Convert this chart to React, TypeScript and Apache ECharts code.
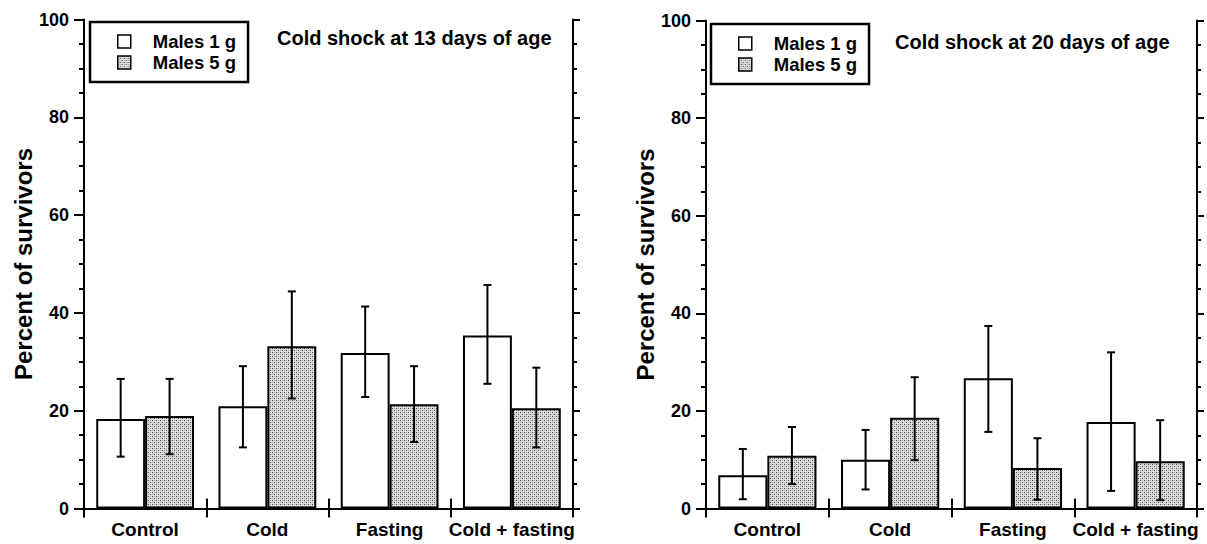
import React, { useEffect, useRef } from "react";
import * as echarts from "echarts";

const categories = ["Control", "Cold", "Fasting", "Cold + fasting"];
const seriesNames = ["Males 1 g", "Males 5 g"];
const yTicks = [0, 20, 40, 60, 80, 100];

const titles = ["Cold shock at 13 days of age", "Cold shock at 20 days of age"];

// Panel 1: cold shock at 13 days
const p1Males1 = [18.3, 20.9, 31.8, 35.4];
const p1Males1Low = [10.6, 12.5, 22.8, 25.5];
const p1Males1High = [26.5, 29.1, 41.3, 45.7];
const p1Males5 = [18.9, 33.2, 21.3, 20.5];
const p1Males5Low = [11.1, 22.5, 13.6, 12.5];
const p1Males5High = [26.5, 44.4, 29.1, 28.8];

// Panel 2: cold shock at 20 days
const p2Males1 = [6.8, 10.0, 26.7, 17.7];
const p2Males1Low = [1.9, 3.9, 15.7, 3.6];
const p2Males1High = [12.2, 16.1, 37.4, 32.0];
const p2Males5 = [10.8, 18.6, 8.3, 9.7];
const p2Males5Low = [5.0, 9.9, 1.8, 1.7];
const p2Males5High = [16.7, 26.9, 14.4, 18.1];

const FONT = "'Liberation Sans', Arial, Helvetica, sans-serif";

function makePattern() {
  const c = document.createElement("canvas");
  c.width = 4;
  c.height = 4;
  const ctx = c.getContext("2d")!;
  ctx.fillStyle = "#dedede";
  ctx.fillRect(0, 0, 4, 4);
  ctx.fillStyle = "#4a4a4a";
  ctx.fillRect(0, 0, 1, 1);
  ctx.fillRect(2, 2, 1, 1);
  ctx.fillStyle = "#a8a8a8";
  ctx.fillRect(2, 0, 1, 1);
  ctx.fillRect(0, 2, 1, 1);
  return { image: c, repeat: "repeat" };
}

export default function App() {
  const ref = useRef<HTMLDivElement>(null);

  useEffect(() => {
    if (!ref.current) return;
    const chart = echarts.init(ref.current, undefined, { renderer: "svg" });
    const pattern = makePattern();

    const grids = [
      { left: 84, right: 1207 - 573, top: 19.5, bottom: 544 - 508.5 },
      { left: 706, right: 1207 - 1197, top: 20.5, bottom: 544 - 508.5 },
    ];

    const lineStyle = { color: "#000", width: 2 };

    const xAxes: any[] = [];
    const yAxes: any[] = [];
    grids.forEach((_, gi) => {
      xAxes.push({
        type: "category",
        gridIndex: gi,
        data: categories,
        position: "bottom",
        axisLine: { show: true, lineStyle },
        axisTick: { show: true, length: 9, lineStyle },
        axisLabel: {
          show: true,
          interval: 0,
          color: "#000",
          fontFamily: FONT,
          fontWeight: "bold",
          fontSize: 19,
          margin: 11,
        },
        splitLine: { show: false },
      });
      xAxes.push({
        type: "category",
        gridIndex: gi,
        data: categories,
        position: "top",
        axisLine: { show: true, lineStyle },
        axisTick: { show: true, length: 10, lineStyle },
        axisLabel: { show: false },
        splitLine: { show: false },
      });
      yAxes.push({
        type: "value",
        gridIndex: gi,
        position: "left",
        min: yTicks[0],
        max: yTicks[yTicks.length - 1],
        interval: 20,
        name: "Percent of survivors",
        nameLocation: "middle",
        nameGap: 34,
        nameTextStyle: {
          color: "#000",
          fontFamily: FONT,
          fontWeight: "bold",
          fontSize: 24,
        },
        axisLine: { show: true, lineStyle },
        axisTick: { show: true, length: 10, lineStyle },
        minorTick: { show: true, splitNumber: 4, length: 5, lineStyle },
        axisLabel: {
          show: true,
          color: "#000",
          fontFamily: FONT,
          fontWeight: "bold",
          fontSize: 18,
          margin: 15,
        },
        splitLine: { show: false },
      });
      yAxes.push({
        type: "value",
        gridIndex: gi,
        position: "right",
        min: yTicks[0],
        max: yTicks[yTicks.length - 1],
        interval: 20,
        axisLine: { show: true, lineStyle },
        axisTick: { show: true, length: 7, lineStyle },
        minorTick: { show: true, splitNumber: 4, length: 4, lineStyle },
        axisLabel: { show: false },
        splitLine: { show: false },
      });
    });

    const barStyle = (fill: any) => ({
      color: fill,
      borderColor: "#000",
      borderWidth: 2,
    });

    const errSeries = (
      name: string,
      gi: number,
      lows: number[],
      highs: number[],
      offset: number
    ) => ({
      type: "custom",
      name,
      xAxisIndex: gi * 2,
      yAxisIndex: gi * 2,
      z: 5,
      silent: true,
      encode: { x: 0, y: [1, 2] },
      data: lows.map((lo, i) => [i, lo, highs[i]]),
      renderItem: (params: any, api: any) => {
        const idx = api.value(0);
        const lo = api.value(1);
        const hi = api.value(2);
        const band = api.size([1, 0])[0];
        const pLo = api.coord([idx, lo]);
        const pHi = api.coord([idx, hi]);
        const x = pLo[0] + offset * band;
        const cap = 4;
        const st = { stroke: "#000", lineWidth: 2 };
        return {
          type: "group",
          children: [
            { type: "line", shape: { x1: x, y1: pHi[1], x2: x, y2: pLo[1] }, style: st },
            { type: "line", shape: { x1: x - cap, y1: pHi[1], x2: x + cap, y2: pHi[1] }, style: st },
            { type: "line", shape: { x1: x - cap, y1: pLo[1], x2: x + cap, y2: pLo[1] }, style: st },
          ],
        };
      },
    });

    const panels = [
      { m1: p1Males1, m1l: p1Males1Low, m1h: p1Males1High, m5: p1Males5, m5l: p1Males5Low, m5h: p1Males5High },
      { m1: p2Males1, m1l: p2Males1Low, m1h: p2Males1High, m5: p2Males5, m5l: p2Males5Low, m5h: p2Males5High },
    ];

    const series: any[] = [];
    panels.forEach((p, gi) => {
      series.push({
        type: "bar",
        name: seriesNames[0],
        xAxisIndex: gi * 2,
        yAxisIndex: gi * 2,
        data: p.m1,
        barWidth: "40%",
        barGap: "0%",
        itemStyle: barStyle("#ffffff"),
      });
      series.push({
        type: "bar",
        name: seriesNames[1],
        xAxisIndex: gi * 2,
        yAxisIndex: gi * 2,
        data: p.m5,
        barWidth: "40%",
        barGap: "0%",
        itemStyle: barStyle(pattern),
      });
      series.push(errSeries("err1-" + gi, gi, p.m1l, p.m1h, -0.2));
      series.push(errSeries("err5-" + gi, gi, p.m5l, p.m5h, 0.2));
    });

    const legendBase = (left: number, top: number) => ({
      data: seriesNames,
      orient: "vertical",
      left,
      top,
      icon: "rect",
      itemWidth: 13,
      itemHeight: 13,
      itemGap: 2,
      padding: [10, 12, 10, 27],
      borderColor: "#000",
      borderWidth: 2.5,
      backgroundColor: "#fff",
      selectedMode: false,
      itemStyle: { borderColor: "#000", borderWidth: 1.5 },
      textStyle: {
        color: "#000",
        fontFamily: FONT,
        fontWeight: "bold",
        fontSize: 18.5,
        padding: [0, 0, 0, 17],
      },
    });

    chart.setOption({
      animation: false,
      backgroundColor: "#fff",
      textStyle: { fontFamily: FONT },
      title: [
        {
          text: titles[0],
          left: 277,
          top: 28,
          padding: 0,
          textStyle: { color: "#000", fontFamily: FONT, fontWeight: "bold", fontSize: 20 },
        },
        {
          text: titles[1],
          left: 895,
          top: 32,
          padding: 0,
          textStyle: { color: "#000", fontFamily: FONT, fontWeight: "bold", fontSize: 20 },
        },
      ],
      legend: [legendBase(90, 22), legendBase(711, 24)],
      grid: grids,
      xAxis: xAxes,
      yAxis: yAxes,
      series,
    });

    return () => chart.dispose();
  }, []);

  return (
    <div
      ref={ref}
      style={{ position: "fixed", left: 0, top: 0, width: 1207, height: 544, background: "#fff" }}
    />
  );
}
